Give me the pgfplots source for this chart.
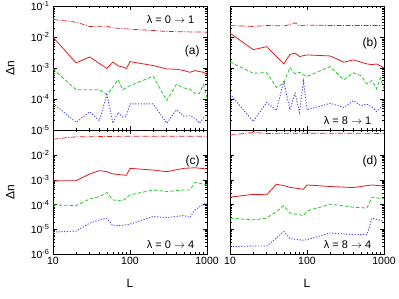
\documentclass[border=0pt]{standalone}
\usepackage{fontspec}
\setmainfont{Liberation Sans}
\usepackage{pgfplots}
\pgfplotsset{compat=1.18}
\definecolor{cR}{RGB}{220,30,30}
\definecolor{cG}{RGB}{40,200,40}
\definecolor{cB}{RGB}{70,70,240}
\pgfplotsset{
  mypanel/.style={
    scale only axis, width=154pt, height=123.5pt,
    xmin=10, xmax=1000,
    axis line style={black, line width=0.8pt},
    tick align=inside, major tick length=4pt, minor tick length=2pt,
    every tick/.style={black, line width=0.5pt},
    xtick={10,100,1000},
    tick label style={font=\fontsize{10.5}{12}\selectfont},
    label style={font=\fontsize{12}{14}\selectfont},
    ylabel style={at={(axis description cs:-0.278,0.5)},anchor=center},
    xlabel style={at={(axis description cs:0.5,-0.24)},anchor=center},
  },
  mydd/.style={cR, line width=0.7pt, dash pattern=on 5pt off 1.5pt on 1pt off 1.5pt},
  mysl/.style={cR, line width=0.8pt},
  mygd/.style={cG, line width=0.8pt, dash pattern=on 3.5pt off 2pt},
  mybd/.style={cB, line width=0.9pt, dash pattern=on 1.2pt off 1.6pt},
  mytop/.style={mypanel, ymin=1e-5, ymax=1e-1, ytick={1e-5,1e-4,1e-3,1e-2,1e-1}, xticklabels={}},
  mybot/.style={mypanel, ymin=1e-6, ymax=1e-1, ytick={1e-6,1e-5,1e-4,1e-3,1e-2}, xticklabels={10,100,1000}, xlabel={L}},
}
\begin{document}
\begin{tikzpicture}
\path[use as bounding box] (0,0) rectangle (399pt,299pt);
% (a)
\begin{loglogaxis}[mytop, at={(53pt,169pt)}, anchor=south west, ylabel={Δn},
  yticklabels={10\textsuperscript{-5},10\textsuperscript{-4},10\textsuperscript{-3},10\textsuperscript{-2},10\textsuperscript{-1}}]
\addplot[mydd] coordinates {(10,0.038) (20,0.031) (30,0.0225) (50,0.023) (60,0.0203) (100,0.0184) (200,0.0167) (300,0.0155) (1000,0.0147)};
\addplot[mysl] coordinates {(10,0.0101) (20,1.49e-3) (30,2.33e-3) (50,9.8e-4) (60,1.57e-3) (70,1.2e-3) (80,1.1e-3) (90,9.8e-4) (100,1.64e-3) (200,1.22e-3) (300,9.5e-4) (400,9.3e-4) (500,8.4e-4) (600,7.4e-4) (700,8.4e-4) (800,7.8e-4) (900,7.4e-4) (1000,6.2e-4)};
\addplot[mygd] coordinates {(10,9.5e-4) (20,2.0e-4) (40,2.0e-4) (50,1.4e-4) (60,2.42e-4) (70,4.3e-4) (80,2.0e-4) (90,2.4e-4) (100,2.74e-4) (200,5.5e-4) (300,8.9e-5) (400,3.0e-4) (500,2.3e-4) (600,2.1e-4) (700,1.48e-4) (800,1.55e-4) (900,3.0e-4) (1000,1.1e-4)};
\addplot[mybd] coordinates {(10,7.3e-5) (20,1.78e-5) (30,3.9e-5) (40,2.0e-5) (50,1.4e-4) (60,1.66e-5) (70,3.7e-5) (80,2.6e-5) (90,2.9e-5) (100,7.0e-5) (200,7.0e-5) (300,1.66e-5) (400,4.5e-5) (500,2.8e-5) (600,2.9e-5) (700,2.4e-5) (800,1.66e-5) (900,2.5e-5) (1000,3.3e-5)};
\node[anchor=east, font=\fontsize{11}{13}\selectfont] at (rel axis cs:0.94,0.895) {λ = 0 $\rightarrow$ 1};
\node[anchor=east, font=\fontsize{12}{14}\selectfont] at (rel axis cs:0.975,0.64) {(a)};
\end{loglogaxis}
% (b)
\begin{loglogaxis}[mytop, at={(230pt,169pt)}, anchor=south west, yticklabels={}]
\addplot[mydd] coordinates {(10,0.0242) (20,0.0225) (30,0.0242) (50,0.0235) (60,0.026) (70,0.0295) (80,0.024) (100,0.025) (200,0.0242) (1000,0.0242)};
\addplot[mysl] coordinates {(10,0.0137) (20,4.0e-3) (30,5.0e-3) (50,1.38e-3) (60,2.8e-3) (70,3.1e-3) (80,2.4e-3) (100,2.7e-3) (200,2.5e-3) (300,1.57e-3) (400,1.86e-3) (600,1.38e-3) (700,1.31e-3) (800,1.38e-3) (1000,1.03e-3)};
\addplot[mygd] coordinates {(10,1.6e-3) (20,6.9e-4) (30,7.2e-4) (40,2.4e-4) (50,3.3e-4) (60,1.07e-3) (70,6.6e-4) (80,7.4e-4) (100,5.4e-4) (200,1.13e-3) (300,4.2e-4) (400,7.1e-4) (500,5.8e-4) (600,3.1e-4) (700,4.0e-4) (800,2.14e-4) (900,4.9e-4) (1000,2.14e-4)};
\addplot[mybd] coordinates {(10,1.47e-4) (20,1.9e-5) (30,7.9e-5) (40,4.3e-5) (50,3.8e-4) (60,4.5e-5) (70,1.55e-4) (80,3.7e-5) (90,3.8e-4) (100,4.5e-5) (200,7.3e-5) (300,5.4e-5) (400,8.9e-5) (500,6.2e-5) (600,6.9e-5) (700,5.4e-5) (800,4.0e-5) (1000,6.6e-5)};
\node[anchor=east, font=\fontsize{12}{14}\selectfont] at (rel axis cs:0.98,0.70) {(b)};
\node[anchor=east, font=\fontsize{11}{13}\selectfont] at (rel axis cs:0.94,0.077) {λ = 8 $\rightarrow$ 1};
\end{loglogaxis}
% (c)
\begin{loglogaxis}[mybot, at={(53pt,45pt)}, anchor=south west, ylabel={Δn},
  yticklabels={10\textsuperscript{-6},10\textsuperscript{-5},10\textsuperscript{-4},10\textsuperscript{-3},10\textsuperscript{-2}}]
\addplot[mydd] coordinates {(10,0.0447) (20,0.0556) (50,0.057) (100,0.059) (1000,0.059)};
\addplot[mysl] coordinates {(10,9.1e-4) (20,9.3e-4) (30,1.74e-3) (40,2.37e-3) (50,2.16e-3) (60,1.74e-3) (90,1.53e-3) (100,2.94e-3) (200,2.5e-3) (300,2.16e-3) (500,2.94e-3) (700,3.1e-3) (1000,2.76e-3)};
\addplot[mygd] coordinates {(10,9.8e-5) (20,9.0e-5) (30,1.7e-4) (40,2.1e-4) (50,3.07e-4) (60,1.55e-4) (80,1.4e-4) (100,2.47e-4) (200,3.9e-4) (300,3.4e-4) (500,3.9e-4) (600,3.9e-4) (700,8.0e-4) (1000,6.25e-4)};
\addplot[mybd] coordinates {(10,7.7e-6) (20,8.5e-6) (30,1.78e-5) (40,2.42e-5) (50,2.83e-5) (60,1.39e-5) (80,1.43e-5) (100,1.62e-5) (200,3.3e-5) (300,3.0e-5) (500,3.6e-5) (600,3.0e-5) (700,6.2e-5) (900,1.04e-4) (1000,1.12e-4)};
\node[anchor=east, font=\fontsize{12}{14}\selectfont] at (rel axis cs:0.975,0.75) {(c)};
\node[anchor=east, font=\fontsize{11}{13}\selectfont] at (rel axis cs:0.94,0.073) {λ = 0 $\rightarrow$ 4};
\end{loglogaxis}
% (d)
\begin{loglogaxis}[mybot, at={(230pt,45pt)}, anchor=south west, yticklabels={}]
\addplot[mydd] coordinates {(10,0.065) (20,0.083) (30,0.076) (100,0.078) (1000,0.076)};
\addplot[mysl] coordinates {(10,2.0e-4) (20,2.6e-4) (30,2.5e-4) (40,6.65e-4) (50,5.9e-4) (60,5.0e-4) (90,4.17e-4) (100,6.25e-4) (200,5.4e-4) (400,4.9e-4) (700,6.25e-4) (1000,5.6e-4)};
\addplot[mygd] coordinates {(10,2.83e-5) (20,2.4e-5) (30,2.83e-5) (40,5.2e-5) (50,9.1e-5) (60,4.5e-5) (90,3.6e-5) (100,5.5e-5) (200,1.04e-4) (400,7.9e-5) (600,7.2e-5) (700,2.0e-4) (1000,1.7e-4)};
\addplot[mybd] coordinates {(10,2.0e-6) (20,2.1e-6) (30,2.1e-6) (40,4.4e-6) (50,8.2e-6) (60,4.2e-6) (90,3.6e-6) (100,3.8e-6) (200,7.1e-6) (400,6.1e-6) (600,6.1e-6) (700,2.83e-5) (1000,2.1e-5)};
\node[anchor=east, font=\fontsize{12}{14}\selectfont] at (rel axis cs:0.98,0.75) {(d)};
\node[anchor=east, font=\fontsize{11}{13}\selectfont] at (rel axis cs:0.94,0.073) {λ = 8 $\rightarrow$ 4};
\end{loglogaxis}
\end{tikzpicture}
\end{document}
